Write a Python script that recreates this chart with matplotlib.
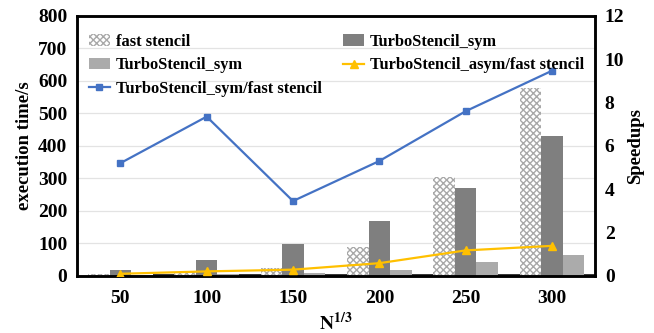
import numpy as np
import matplotlib.pyplot as plt

plt.rcParams['font.family'] = 'Liberation Serif'
plt.rcParams['font.weight'] = 'bold'
plt.rcParams['mathtext.fontset'] = 'stix'
plt.rcParams['hatch.linewidth'] = 1.0

sizes = ['50', '100', '150', '200', '250', '300']
fast_stencil = [5, 13, 25, 88, 305, 578]
turbo_sym = [17, 47, 97, 169, 270, 431]
turbo_sym_light = [2, 4, 8, 18, 42, 63]
other = [4, 5, 5, 5, 5, 6]
speedup_sym = [5.2, 7.35, 3.45, 5.3, 7.6, 9.47]
speedup_asym = [0.09, 0.2, 0.28, 0.58, 1.17, 1.38]

x = np.arange(len(sizes))
w = 0.25

fig = plt.figure(figsize=(6.54, 3.33), dpi=100)
ax = fig.add_axes([0.118, 0.172, 0.792, 0.78])
ax2 = ax.twinx()

ax.set_axisbelow(True)
ax.grid(axis='y', color='#e3e3e3', lw=0.9)

b1 = ax.bar(x - w, fast_stencil, w, facecolor='white', edgecolor='#a8a8a8',
            hatch='xxxxx', lw=0, label='fast stencil', zorder=2)
b2 = ax.bar(x, turbo_sym, w, color='#7f7f7f', label='TurboStencil_sym', zorder=2)
b3 = ax.bar(x + w, turbo_sym_light, w, color='#ababab',
            label='TurboStencil_sym', zorder=2)
ax.bar(x + 2 * w, other, w, color='#3a3a3a', zorder=2)

l1, = ax2.plot(x, speedup_sym, color='#4472c4', lw=1.6, marker='s', ms=5,
               label='TurboStencil_sym/fast stencil', zorder=3)
l2, = ax2.plot(x, speedup_asym, color='#ffc000', lw=1.6, marker='^', ms=6,
               label='TurboStencil_asym/fast stencil', zorder=3)

ax.set_xlim(-0.5, 5.5)
ax.set_ylim(0, 800)
ax.set_yticks(range(0, 801, 100))
ax2.set_ylim(0, 12)
ax2.set_yticks(range(0, 13, 2))
ax.set_xticks(x)
ax.set_xticklabels(sizes)

for a in (ax, ax2):
    a.tick_params(length=0, labelsize=14, pad=7)
    for s in a.spines.values():
        s.set_color('black')
        s.set_linewidth(1.8)
ax.tick_params(axis='x', pad=10)

ax.set_ylabel('execution time/s', fontsize=13.5, fontweight='bold', labelpad=4)
ax2.set_ylabel('Speedups', fontsize=13.5, fontweight='bold', labelpad=2)
ax.set_xlabel(r'$\mathbf{N}^{1/3}$', fontsize=14, labelpad=4)

handles = [b1, b3, l1, b2, l2]
labels = ['fast stencil', 'TurboStencil_sym', 'TurboStencil_sym/fast stencil',
          'TurboStencil_sym', 'TurboStencil_asym/fast stencil']
ax2.legend(handles, labels, ncol=2, loc='upper left', bbox_to_anchor=(0.0, 0.975),
           frameon=False, fontsize=11.8, handlelength=1.3, handletextpad=0.35,
           columnspacing=1.3, labelspacing=0.45, borderaxespad=0.3)

fig.savefig('out.png', dpi=100)
